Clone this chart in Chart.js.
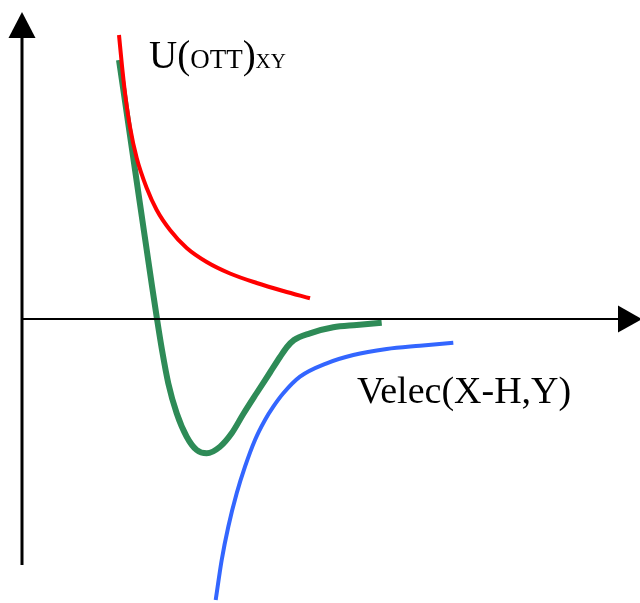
<!DOCTYPE html>
<html>
<head>
<meta charset="utf-8">
<script src="https://cdn.jsdelivr.net/npm/chart.js@4/dist/chart.umd.min.js"></script>
<style>
  html, body { margin: 0; padding: 0; background: #fff; }
  canvas { display: block; }
</style>
</head>
<body>
<canvas id="pot" width="640" height="603"></canvas>
<script>
// curves in axis units (origin where the two axes cross, y up)
const repulsionX = [97, 100, 103.5, 108, 114.7, 124.7, 134.7, 148, 164.7, 184.7, 208, 234.7, 261.3, 288];
const repulsionY = [284, 253, 222, 192, 161, 131, 109, 89, 71, 57, 45.5, 36, 28, 20.7];

const totalX = [97, 104, 111, 118, 124, 130, 135, 140, 146.3, 154.7, 164.7, 174.7, 184.7,
  198, 209.7, 221.3, 234.7, 248, 258, 265, 272, 288, 311.3, 334.7, 359.7];
const totalY = [259, 211, 163, 115, 74, 33, 0, -31, -64.3, -94.3, -117.7, -131, -134.3,
  -127.7, -114.3, -95, -74, -53.5, -38, -28, -21, -14.3, -8.3, -6, -3.7];

const elecX = [193.7, 199.7, 206.3, 214.7, 223, 233, 243, 251.3, 261.3, 278, 304.7, 331.3, 364.7, 398, 431.3];
const elecY = [-281, -241, -207.7, -174.3, -147.7, -121, -101, -87.7, -74.3, -57.7, -44.3, -36, -30, -26.7, -23.7];

function pts(xs, ys) {
  return xs.map((x, i) => ({ x: x, y: ys[i] }));
}

const serif = "'Liberation Serif', 'Times New Roman', serif";

// axes with arrow heads + the two labels
const axesPlugin = {
  id: "axesPlugin",
  afterDatasetsDraw(chart) {
    const c = chart.ctx;
    const sx = chart.scales.x, sy = chart.scales.y;
    const ox = sx.getPixelForValue(0), oy = sy.getPixelForValue(0);
    c.save();
    c.strokeStyle = "#000";
    c.fillStyle = "#000";
    // vertical axis
    c.lineWidth = 3;
    c.beginPath();
    c.moveTo(ox, sy.getPixelForValue(-246));
    c.lineTo(ox, sy.getPixelForValue(285));
    c.stroke();
    c.beginPath();
    c.moveTo(ox, sy.getPixelForValue(307));
    c.lineTo(ox - 13.5, sy.getPixelForValue(281));
    c.lineTo(ox + 13.5, sy.getPixelForValue(281));
    c.closePath();
    c.fill();
    // horizontal axis
    c.lineWidth = 2;
    c.beginPath();
    c.moveTo(ox, oy);
    c.lineTo(sx.getPixelForValue(600), oy);
    c.stroke();
    c.beginPath();
    c.moveTo(sx.getPixelForValue(620), oy);
    c.lineTo(sx.getPixelForValue(596), oy - 13.5);
    c.lineTo(sx.getPixelForValue(596), oy + 13.5);
    c.closePath();
    c.fill();

    // U(OTT)XY : small caps inside the brackets, smaller XY after
    c.textBaseline = "alphabetic";
    c.textAlign = "left";
    let x = 149;
    const base = 68;
    const parts = [
      ["U(", 39],
      ["OTT", 27],
      [")", 39],
      ["XY", 21]
    ];
    parts.forEach(p => {
      c.font = p[1] + "px " + serif;
      c.fillText(p[0], x, base);
      x += c.measureText(p[0]).width;
    });

    c.font = "38px " + serif;
    c.fillText("Velec(X-H,Y)", 357, 403);
    c.restore();
  }
};

const lineStyle = { pointRadius: 0, cubicInterpolationMode: "monotone", fill: false };

new Chart(document.getElementById("pot"), {
  type: "line",
  data: {
    datasets: [
      Object.assign({
        label: "U(OTT)XY",
        data: pts(repulsionX, repulsionY),
        borderColor: "#FF0000",
        borderWidth: 4
      }, lineStyle),
      Object.assign({
        label: "total",
        data: pts(totalX, totalY),
        borderColor: "#2E8B57",
        borderWidth: 6
      }, lineStyle),
      Object.assign({
        label: "Velec(X-H,Y)",
        data: pts(elecX, elecY),
        borderColor: "#3366FF",
        borderWidth: 4
      }, lineStyle)
    ]
  },
  options: {
    responsive: false,
    animation: false,
    clip: false,
    layout: { padding: 0 },
    plugins: { legend: { display: false }, tooltip: { enabled: false } },
    scales: {
      x: { type: "linear", min: -22, max: 618, display: false },
      y: { type: "linear", min: -284, max: 319, display: false }
    }
  },
  plugins: [axesPlugin]
});
</script>
</body>
</html>
